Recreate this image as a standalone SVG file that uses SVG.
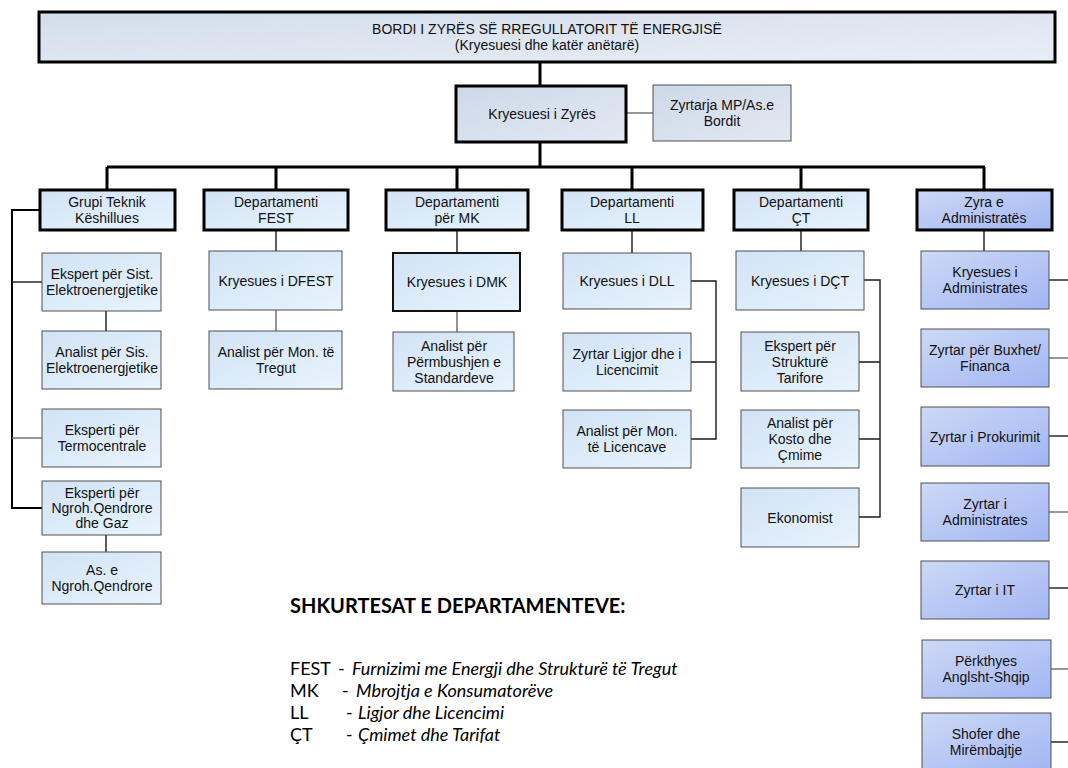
<svg xmlns="http://www.w3.org/2000/svg" width="1068" height="768" viewBox="0 0 1068 768">
<defs>
<linearGradient id="gTop" x1="0" y1="0" x2="1" y2="1"><stop offset="0" stop-color="#d3ddeb"/><stop offset="1" stop-color="#e8eef6"/></linearGradient>
<linearGradient id="gGrey" x1="0" y1="0" x2="1" y2="1"><stop offset="0" stop-color="#cdd8e8"/><stop offset="1" stop-color="#e3e9f3"/></linearGradient>
<linearGradient id="gBlue" x1="0" y1="0" x2="1" y2="1"><stop offset="0" stop-color="#d2e3f6"/><stop offset="1" stop-color="#e8f4fd"/></linearGradient>
<linearGradient id="gAdm" x1="0" y1="0" x2="1" y2="1"><stop offset="0" stop-color="#cdd9f6"/><stop offset="1" stop-color="#a2b5f3"/></linearGradient>
<style>
text{font-family:"Liberation Sans",Arial,sans-serif;font-size:14px;fill:#111;text-anchor:middle}
.thick{stroke:#000;stroke-width:3}
.thin{stroke:#505050;stroke-width:1}
.top{fill:url(#gTop)}
.grey{fill:url(#gGrey)}
.blue{fill:url(#gBlue)}
.adm{fill:url(#gAdm)}
.c3{stroke:#000;stroke-width:3;fill:none}
.c2{stroke:#000;stroke-width:2;fill:none}
.c1{stroke:#1a1a1a;stroke-width:1.4;fill:none}
.cg{stroke:#6a6a6a;stroke-width:1.4;fill:none}
.leg{font-family:Lato,"Liberation Sans",sans-serif;font-size:18px;text-anchor:start;fill:#000}
.legt{font-weight:bold;font-size:20px}
.it{font-style:italic}
</style>
</defs>
<rect width="1068" height="768" fill="#fff"/>

<g id="connectors">
<path class="c3" d="M540,62V86M540,142V167M107,167H985M107,167V190M276,167V190M457,167V190M632,167V190M801,167V190M984,167V190"/>
<path class="cg" d="M626,113H653"/>
<path class="c2" d="M40,210H12V508H42"/>
<path class="c1" d="M12,282H42"/>
<path class="cg" d="M12,438H42"/>
<path class="c1" d="M106,311V331M106,535V552"/>
<path class="c1" d="M276,230V251"/>
<path class="cg" d="M276,310V331"/>
<path class="c1" d="M457,230V253"/>
<path class="cg" d="M457,311V332"/>
<path class="c1" d="M632,230V253"/>
<path class="c1" d="M691,281H716V439H691M716,362H691"/>
<path class="c1" d="M801,230V251"/>
<path class="c1" d="M864,280H880V517H859M880,362H859M880,439H859"/>
<path class="c1" d="M984,230V251"/>
<path class="c1" d="M1049,280H1068"/>
<path class="cg" d="M1049,358H1068"/>
<path class="c1" d="M1049,436H1068"/>
<path class="cg" d="M1049,512H1068"/>
<path class="c1" d="M1049,588H1068"/>
<path class="cg" d="M1051,669H1068"/>
<path class="c1" d="M1051,742H1068"/>
</g>

<g id="bordi"><rect class="top thick" x="39" y="12" width="1016" height="50"/><text x="547" y="34">BORDI I ZYRËS SË RREGULLATORIT TË ENERGJISË</text><text x="547" y="50">(Kryesuesi dhe katër anëtarë)</text></g>
<g id="kryesuesi"><rect class="grey thick" x="456" y="86" width="170" height="56"/><text x="542" y="119">Kryesuesi i Zyrës</text></g>
<g id="zyrtarja"><rect class="grey thin" x="653" y="85" width="138" height="56"/><text x="722" y="110">Zyrtarja MP/As.e</text><text x="722" y="126">Bordit</text></g>

<g id="grupi"><rect class="blue thick" x="40" y="190" width="135" height="40"/><text x="107" y="207">Grupi Teknik</text><text x="107" y="223">Këshillues</text></g>
<g id="fest"><rect class="blue thick" x="204" y="190" width="144" height="40"/><text x="276" y="207">Departamenti</text><text x="276" y="223">FEST</text></g>
<g id="mk"><rect class="blue thick" x="386" y="190" width="142" height="40"/><text x="457" y="207">Departamenti</text><text x="457" y="223">për MK</text></g>
<g id="ll"><rect class="blue thick" x="562" y="190" width="141" height="40"/><text x="632" y="207">Departamenti</text><text x="632" y="223">LL</text></g>
<g id="ct"><rect class="blue thick" x="734" y="190" width="134" height="40"/><text x="801" y="207">Departamenti</text><text x="801" y="223">ÇT</text></g>
<g id="zyra"><rect class="adm thick" x="917" y="190" width="135" height="40"/><text x="984" y="207">Zyra e</text><text x="984" y="223">Administratës</text></g>

<g id="ekspert-sist"><rect class="blue thin" x="42" y="253" width="119" height="58"/><text x="102" y="279">Ekspert për Sist.</text><text x="102" y="295">Elektroenergjetike</text></g>
<g id="analist-sis"><rect class="blue thin" x="42" y="331" width="119" height="58"/><text x="102" y="357">Analist për Sis.</text><text x="102" y="373">Elektroenergjetike</text></g>
<g id="eksperti-termo"><rect class="blue thin" x="42" y="409" width="119" height="58"/><text x="102" y="435">Eksperti për</text><text x="102" y="451">Termocentrale</text></g>
<g id="eksperti-ngroh"><rect class="blue thin" x="42" y="481" width="119" height="54"/><text x="102" y="498">Eksperti për</text><text x="102" y="513">Ngroh.Qendrore</text><text x="102" y="528">dhe Gaz</text></g>
<g id="as-ngroh"><rect class="blue thin" x="42" y="552" width="119" height="52"/><text x="102" y="575">As. e</text><text x="102" y="591">Ngroh.Qendrore</text></g>

<g id="kryesues-dfest"><rect class="blue thin" x="209" y="251" width="133" height="59"/><text x="276" y="285.5">Kryesues i DFEST</text></g>
<g id="analist-tregut"><rect class="blue thin" x="209" y="331" width="133" height="58"/><text x="276" y="357">Analist për Mon. të</text><text x="276" y="373">Tregut</text></g>

<g id="kryesues-dmk"><rect class="blue" x="393" y="253" width="127" height="58" stroke="#111" stroke-width="2"/><text x="457" y="287">Kryesues i DMK</text></g>
<g id="analist-standardeve"><rect class="blue thin" x="393" y="332" width="121" height="59"/><text x="454" y="350.5">Analist për</text><text x="454" y="366.5">Përmbushjen e</text><text x="454" y="382.5">Standardeve</text></g>

<g id="kryesues-dll"><rect class="blue thin" x="563" y="253" width="128" height="56"/><text x="627" y="286">Kryesues i DLL</text></g>
<g id="zyrtar-ligjor"><rect class="blue thin" x="563" y="333" width="128" height="58"/><text x="627" y="359">Zyrtar Ligjor dhe i</text><text x="627" y="375">Licencimit</text></g>
<g id="analist-licencave"><rect class="blue thin" x="563" y="410" width="128" height="58"/><text x="627" y="436">Analist për Mon.</text><text x="627" y="452">të Licencave</text></g>

<g id="kryesues-dct"><rect class="blue thin" x="736" y="251" width="128" height="59"/><text x="800" y="285.5">Kryesues i DÇT</text></g>
<g id="ekspert-tarifore"><rect class="blue thin" x="741" y="332" width="118" height="59"/><text x="800" y="350.5">Ekspert për</text><text x="800" y="366.5">Strukturë</text><text x="800" y="382.5">Tarifore</text></g>
<g id="analist-kosto"><rect class="blue thin" x="741" y="410" width="118" height="58"/><text x="800" y="428">Analist për</text><text x="800" y="444">Kosto dhe</text><text x="800" y="460">Çmime</text></g>
<g id="ekonomist"><rect class="blue thin" x="741" y="488" width="118" height="59"/><text x="800" y="522.5">Ekonomist</text></g>

<g id="kryesues-adm"><rect class="adm thin" x="921" y="251" width="128" height="58"/><text x="985" y="277">Kryesues i</text><text x="985" y="293">Administrates</text></g>
<g id="zyrtar-buxhet"><rect class="adm thin" x="921" y="329" width="128" height="58"/><text x="985" y="355">Zyrtar për Buxhet/</text><text x="985" y="371">Financa</text></g>
<g id="zyrtar-prokurimit"><rect class="adm thin" x="921" y="407" width="128" height="59"/><text x="985" y="441.5">Zyrtar i Prokurimit</text></g>
<g id="zyrtar-adm"><rect class="adm thin" x="921" y="483" width="128" height="58"/><text x="985" y="509">Zyrtar i</text><text x="985" y="525">Administrates</text></g>
<g id="zyrtar-it"><rect class="adm thin" x="921" y="561" width="128" height="58"/><text x="985" y="595">Zyrtar i IT</text></g>
<g id="perkthyes"><rect class="adm thin" x="922" y="640" width="129" height="58"/><text x="986" y="666">Përkthyes</text><text x="986" y="682">Anglsht-Shqip</text></g>
<g id="shofer"><rect class="adm thin" x="922" y="713" width="129" height="58"/><text x="986" y="739">Shofer dhe</text><text x="986" y="755">Mirëmbajtje</text></g>

<g id="legend">
<text class="leg legt" x="290" y="613">SHKURTESAT E DEPARTAMENTEVE:</text>
<text class="leg" x="290" y="675">FEST</text><text class="leg" x="338" y="675">-</text><text class="leg it" x="352" y="675">Furnizimi me Energji dhe Strukturë të Tregut</text>
<text class="leg" x="290" y="697">MK</text><text class="leg" x="342" y="697">-</text><text class="leg it" x="356" y="697">Mbrojtja e Konsumatorëve</text>
<text class="leg" x="290" y="719">LL</text><text class="leg" x="346" y="719">-</text><text class="leg it" x="358" y="719">Ligjor dhe Licencimi</text>
<text class="leg" x="290" y="741">ÇT</text><text class="leg" x="346" y="741">-</text><text class="leg it" x="358" y="741">Çmimet dhe Tarifat</text>
</g>
</svg>
